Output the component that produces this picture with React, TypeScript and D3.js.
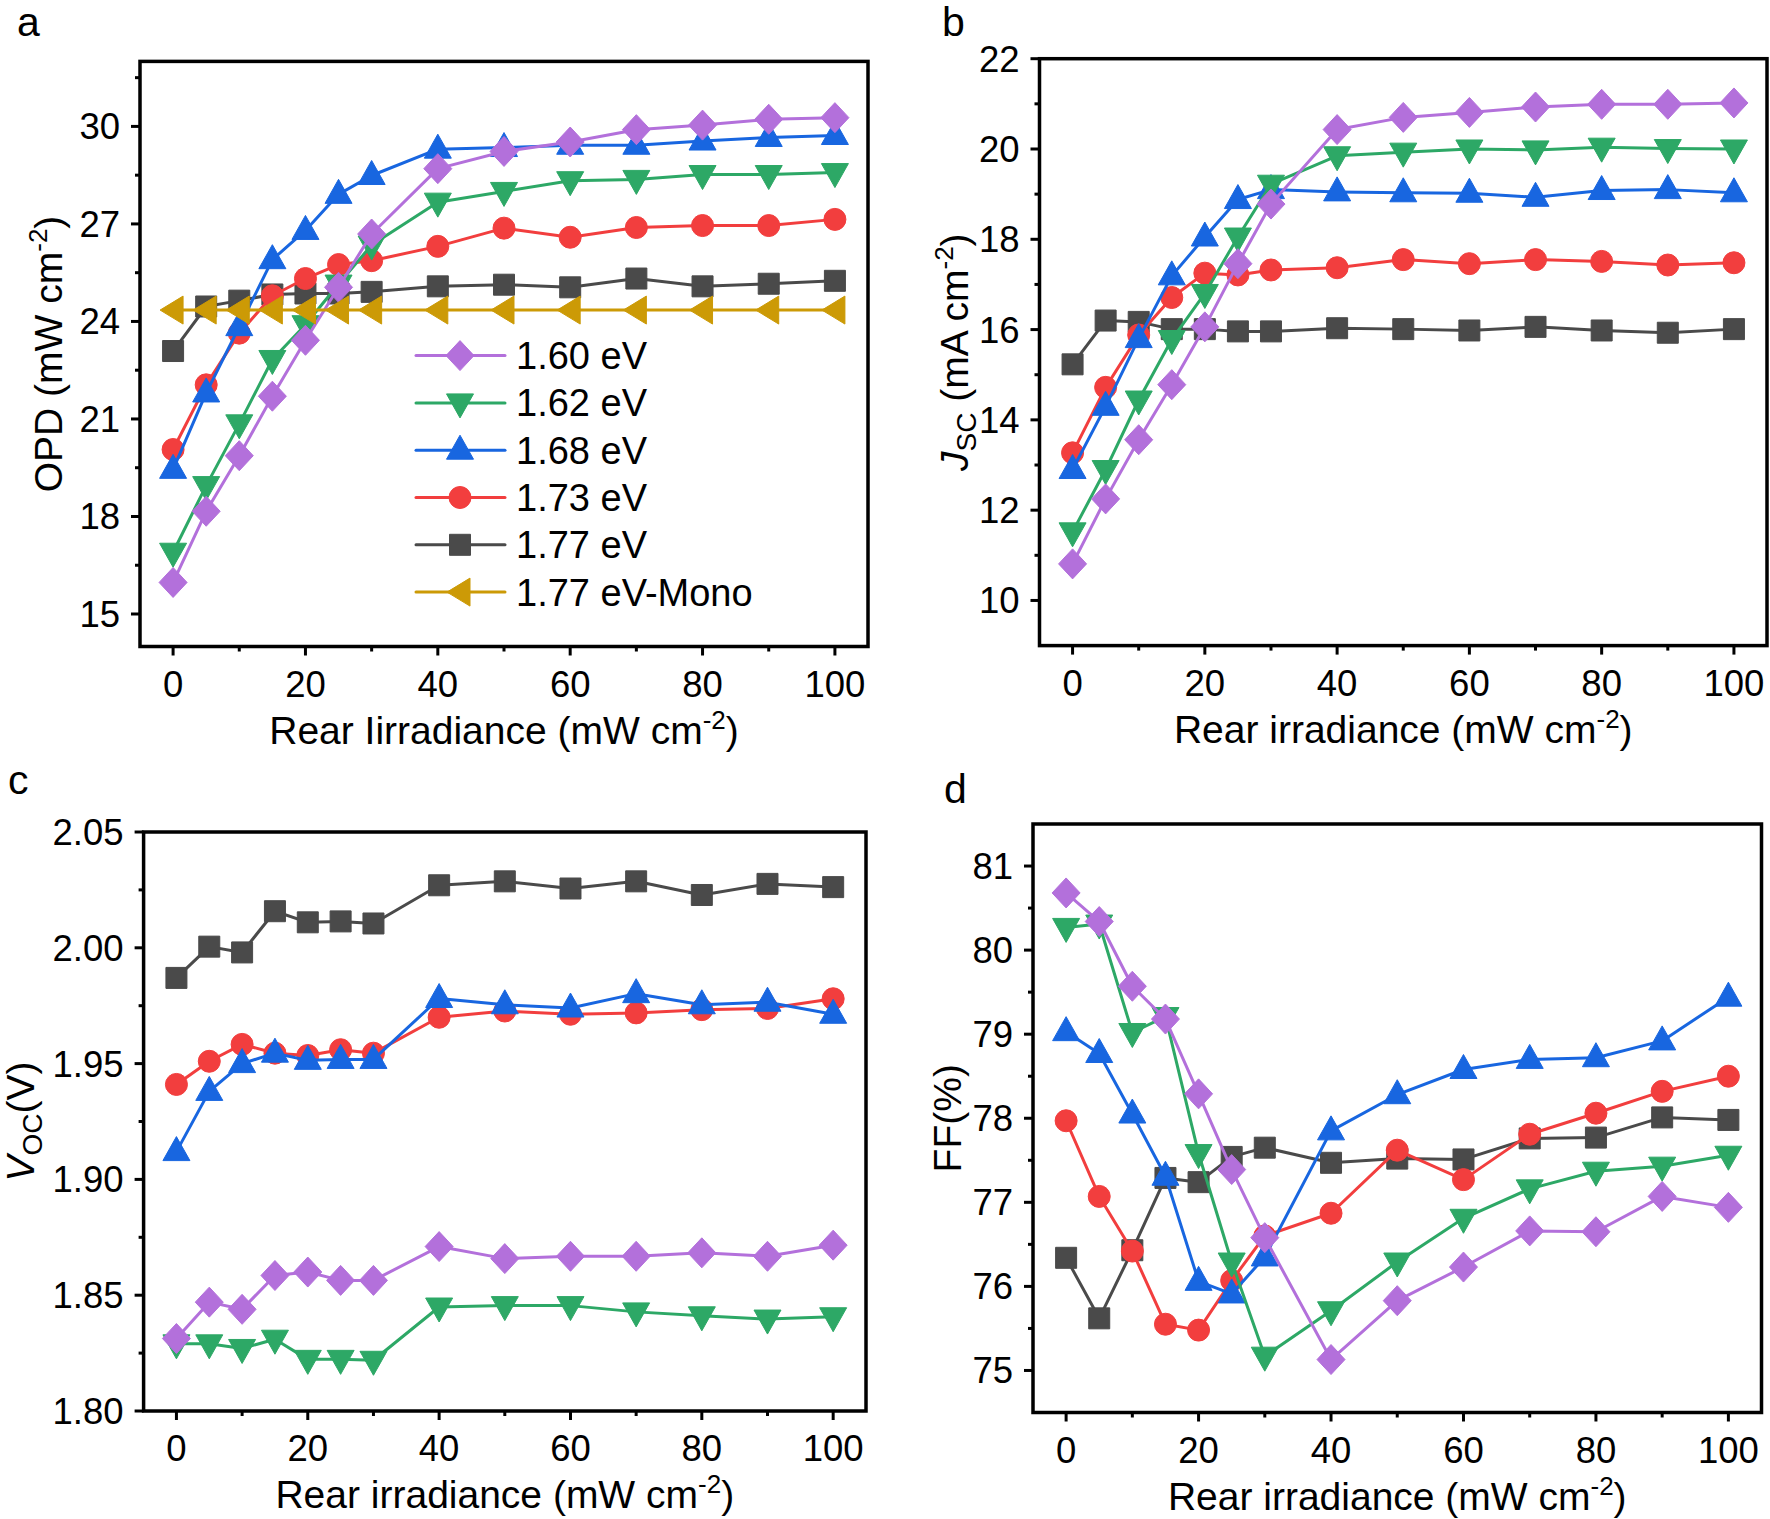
import React from 'react';
import * as d3 from 'd3';

const irradiance = [0, 5, 10, 15, 20, 25, 30, 40, 50, 60, 70, 80, 90, 100];
const seriesNames = ['1.60 eV', '1.62 eV', '1.68 eV', '1.73 eV', '1.77 eV', '1.77 eV-Mono'];
const seriesColors = ['#B370DB', '#2DA866', '#1866E0', '#F23E3E', '#4A4A4A', '#CC9A06'];
const seriesShapes = ['diamond', 'down', 'up', 'circle', 'square', 'left'];

// panel a: OPD (mW cm-2)
const opd160 = [15.97, 18.16, 19.87, 21.7, 23.42, 25.05, 26.69, 28.7, 29.23, 29.52, 29.9, 30.04, 30.22, 30.27];
const opd162 = [16.9, 18.95, 20.85, 22.83, 23.9, 25.15, 26.35, 27.67, 28.0, 28.33, 28.37, 28.52, 28.52, 28.58];
const opd168 = [19.45, 21.8, 23.84, 25.9, 26.8, 27.91, 28.49, 29.3, 29.35, 29.42, 29.42, 29.55, 29.66, 29.72];
const opd173 = [20.06, 22.05, 23.64, 24.79, 25.32, 25.75, 25.87, 26.31, 26.87, 26.59, 26.89, 26.95, 26.95, 27.14];
const opd177 = [23.09, 24.46, 24.64, 24.83, 24.86, 24.86, 24.91, 25.08, 25.13, 25.05, 25.32, 25.08, 25.16, 25.25];
const opdMono = [24.35, 24.35, 24.35, 24.35, 24.35, 24.35, 24.35, 24.35, 24.35, 24.35, 24.35, 24.35, 24.35, 24.35];

// panel b: Jsc (mA cm-2)
const jsc160 = [10.81, 12.25, 13.56, 14.78, 16.06, 17.46, 18.78, 20.43, 20.7, 20.81, 20.93, 20.99, 20.99, 21.02];
const jsc162 = [11.52, 12.9, 14.44, 15.78, 16.8, 18.05, 19.22, 19.85, 19.93, 20.0, 19.98, 20.04, 20.01, 20.0];
const jsc168 = [12.9, 14.3, 15.8, 17.19, 18.05, 18.88, 19.1, 19.05, 19.03, 19.02, 18.93, 19.08, 19.1, 19.03];
const jsc173 = [13.27, 14.72, 15.88, 16.71, 17.25, 17.21, 17.32, 17.37, 17.55, 17.46, 17.55, 17.51, 17.43, 17.48];
const jsc177 = [15.23, 16.2, 16.17, 16.01, 16.01, 15.96, 15.96, 16.03, 16.01, 15.98, 16.06, 15.98, 15.93, 16.01];

// panel c: Voc (V)
const voc160 = [1.8313, 1.847, 1.8439, 1.8585, 1.86, 1.8564, 1.8564, 1.871, 1.8658, 1.8668, 1.8668, 1.8683, 1.8668, 1.8716];
const voc162 = [1.829, 1.829, 1.827, 1.831, 1.8223, 1.8223, 1.8219, 1.8449, 1.8455, 1.8455, 1.8428, 1.8411, 1.8397, 1.8407];
const voc168 = [1.912, 1.938, 1.95, 1.9545, 1.9514, 1.9518, 1.9518, 1.9781, 1.9754, 1.974, 1.9802, 1.9754, 1.9765, 1.9713];
const voc173 = [1.941, 1.951, 1.9583, 1.9545, 1.9535, 1.956, 1.9545, 1.97, 1.9727, 1.9713, 1.9719, 1.9733, 1.9738, 1.978];
const voc177 = [1.987, 2.0005, 1.998, 2.0158, 2.011, 2.0114, 2.0105, 2.027, 2.0287, 2.0256, 2.0287, 2.0228, 2.0276, 2.0262];

// panel d: FF (%)
const ff160 = [80.68, 80.34, 79.57, 79.18, 78.29, 77.39, 76.58, 75.13, 75.83, 76.23, 76.66, 76.65, 77.07, 76.94];
const ff162 = [80.27, 80.31, 79.02, 79.21, 77.58, 76.29, 75.17, 75.71, 76.29, 76.81, 77.16, 77.37, 77.43, 77.56];
const ff168 = [79.03, 78.77, 78.05, 77.31, 76.06, 75.91, 76.35, 77.85, 78.28, 78.58, 78.7, 78.72, 78.92, 79.44];
const ff173 = [77.97, 77.07, 76.42, 75.55, 75.48, 76.07, 76.6, 76.87, 77.62, 77.27, 77.81, 78.06, 78.32, 78.5];
const ff177 = [76.34, 75.62, 76.43, 77.29, 77.24, 77.54, 77.65, 77.47, 77.52, 77.51, 77.76, 77.77, 78.01, 77.98];

const xDomain = [-5, 105];
const xMajorTicks = [0, 20, 40, 60, 80, 100];
const xMinorTicks = [10, 30, 50, 70, 90];

const FONT = '"Liberation Sans", Arial, Helvetica, sans-serif';
const TICK_FS = 36.5;
const TITLE_FS = 39;
const LEGEND_FS = 38;

function markerPath(shape: string): string {
  switch (shape) {
    case 'diamond': return 'M0,-15L14,0L0,15L-14,0Z';
    case 'up': return 'M0,-15L13.5,9L-13.5,9Z';
    case 'down': return 'M0,15L13.5,-9L-13.5,-9Z';
    case 'square': return 'M-10.5,-10.5h21v21h-21Z';
    case 'left': return 'M-13,0L10,-14L10,14Z';
    default: return '';
  }
}

function Marker({ shape, color, cx, cy }: { shape: string; color: string; cx: number; cy: number }) {
  if (shape === 'circle') return <circle cx={cx} cy={cy} r={11} fill={color} stroke={color} strokeWidth={1} />;
  return <path d={markerPath(shape)} transform={`translate(${cx},${cy})`} fill={color} stroke={color} strokeWidth={1} strokeLinejoin="round" />;
}

type PanelCfg = {
  letter: string;
  letterX: number;
  letterY: number;
  left: number;
  right: number;
  top: number;
  bottom: number;
  yDomain: number[];
  yMajor: number[];
  yMinor: number[];
  yFormat: (v: number) => string;
  series: number[][];
  yTitle: React.ReactNode;
  yTitleX: number;
  xTitle: React.ReactNode;
  legend?: boolean;
};

const drawOrder = [4, 3, 2, 1, 0, 5];

function Panel({ cfg }: { cfg: PanelCfg }) {
  const x = d3.scaleLinear().domain(xDomain).range([cfg.left, cfg.right]);
  const y = d3.scaleLinear().domain(cfg.yDomain).range([cfg.bottom, cfg.top]);
  const line = d3.line<number>().x((_d, i) => x(irradiance[i])).y((d) => y(d));
  const midY = (cfg.top + cfg.bottom) / 2;
  const midX = (cfg.left + cfg.right) / 2;
  const majorLen = 9;
  const minorLen = 5;
  return (
    <g>
      <text x={cfg.letterX} y={cfg.letterY} fontSize={41} fontFamily={FONT}>{cfg.letter}</text>
      {cfg.yMajor.map((v) => (
        <g key={'ym' + v}>
          <line x1={cfg.left} x2={cfg.left - majorLen} y1={y(v)} y2={y(v)} stroke="#000" strokeWidth={3} />
          <text x={cfg.left - 20} y={y(v) + 13} textAnchor="end" fontSize={TICK_FS} fontFamily={FONT}>{cfg.yFormat(v)}</text>
        </g>
      ))}
      {cfg.yMinor.map((v) => (
        <line key={'yn' + v} x1={cfg.left} x2={cfg.left - minorLen} y1={y(v)} y2={y(v)} stroke="#000" strokeWidth={3} />
      ))}
      {xMajorTicks.map((v) => (
        <g key={'xm' + v}>
          <line x1={x(v)} x2={x(v)} y1={cfg.bottom} y2={cfg.bottom + majorLen} stroke="#000" strokeWidth={3} />
          <text x={x(v)} y={cfg.bottom + 50} textAnchor="middle" fontSize={TICK_FS} fontFamily={FONT}>{v}</text>
        </g>
      ))}
      {xMinorTicks.map((v) => (
        <line key={'xn' + v} x1={x(v)} x2={x(v)} y1={cfg.bottom} y2={cfg.bottom + minorLen} stroke="#000" strokeWidth={3} />
      ))}
      <text x={midX} y={cfg.bottom + 97} textAnchor="middle" fontSize={TITLE_FS} fontFamily={FONT}>{cfg.xTitle}</text>
      <text transform={`translate(${cfg.yTitleX},${midY}) rotate(-90)`} textAnchor="middle" fontSize={TITLE_FS} fontFamily={FONT}>{cfg.yTitle}</text>
      {drawOrder.filter((si) => si < cfg.series.length).map((si) => {
        const data = cfg.series[si];
        const color = seriesColors[si];
        return (
          <g key={'s' + si}>
            <path d={line(data) || ''} fill="none" stroke={color} strokeWidth={3} strokeLinejoin="round" />
            {data.map((v, i) => (
              <Marker key={i} shape={seriesShapes[si]} color={color} cx={x(irradiance[i])} cy={y(v)} />
            ))}
          </g>
        );
      })}
      <rect x={cfg.left} y={cfg.top} width={cfg.right - cfg.left} height={cfg.bottom - cfg.top} fill="none" stroke="#000" strokeWidth={3.5} />
      {cfg.legend && seriesNames.map((name, i) => {
        const ly = 355.6 + i * 47.3;
        return (
          <g key={'lg' + i}>
            <line x1={416} x2={505} y1={ly} y2={ly} stroke={seriesColors[i]} strokeWidth={3} strokeLinecap="round" />
            <Marker shape={seriesShapes[i]} color={seriesColors[i]} cx={460} cy={ly} />
            <text x={516} y={ly + 13.5} fontSize={LEGEND_FS} fontFamily={FONT}>{name}</text>
          </g>
        );
      })}
    </g>
  );
}

const range = (a: number, b: number, s: number) => d3.range(0, Math.round((b - a) / s) + 1).map((k) => +(a + k * s).toFixed(4));

const sup = (txt: string) => [
  <tspan key="s1" dy={-15} fontSize={26}>{txt}</tspan>,
  <tspan key="s2" dy={15}>)</tspan>,
];

const panels: PanelCfg[] = [
  {
    letter: 'a', letterX: 17, letterY: 36,
    left: 140, right: 868, top: 61.4, bottom: 646.5,
    yDomain: [14, 32], yMajor: range(15, 30, 3), yMinor: range(16.5, 31.5, 3),
    yFormat: (v) => String(v),
    series: [opd160, opd162, opd168, opd173, opd177, opdMono],
    yTitle: [<tspan key="t">OPD (mW cm</tspan>, ...sup('-2')],
    yTitleX: 62,
    xTitle: [<tspan key="t">Rear Iirradiance (mW cm</tspan>, ...sup('-2')],
    legend: true,
  },
  {
    letter: 'b', letterX: 942, letterY: 36,
    left: 1039.5, right: 1767, top: 58.7, bottom: 645.6,
    yDomain: [9, 22], yMajor: range(10, 22, 2), yMinor: range(11, 21, 2),
    yFormat: (v) => String(v),
    series: [jsc160, jsc162, jsc168, jsc173, jsc177],
    yTitle: [
      <tspan key="j" fontStyle="italic">J</tspan>,
      <tspan key="sc" dy={8} fontSize={28}>SC</tspan>,
      <tspan key="r" dy={-8}> (mA cm</tspan>,
      ...sup('-2'),
    ],
    yTitleX: 968,
    xTitle: [<tspan key="t">Rear irradiance (mW cm</tspan>, ...sup('-2')],
  },
  {
    letter: 'c', letterX: 8, letterY: 794,
    left: 143.6, right: 866, top: 832, bottom: 1411,
    yDomain: [1.8, 2.05], yMajor: range(1.8, 2.05, 0.05), yMinor: range(1.825, 2.025, 0.05),
    yFormat: (v) => v.toFixed(2),
    series: [voc160, voc162, voc168, voc173, voc177],
    yTitle: [
      <tspan key="v" fontStyle="italic">V</tspan>,
      <tspan key="oc" dy={8} fontSize={28}>OC</tspan>,
      <tspan key="r" dy={-8}>(V)</tspan>,
    ],
    yTitleX: 34,
    xTitle: [<tspan key="t">Rear irradiance (mW cm</tspan>, ...sup('-2')],
  },
  {
    letter: 'd', letterX: 944, letterY: 803,
    left: 1033, right: 1761.5, top: 824, bottom: 1412.5,
    yDomain: [74.5, 81.5], yMajor: range(75, 81, 1), yMinor: range(75.5, 80.5, 1),
    yFormat: (v) => String(v),
    series: [ff160, ff162, ff168, ff173, ff177],
    yTitle: 'FF(%)',
    yTitleX: 961,
    xTitle: [<tspan key="t">Rear irradiance (mW cm</tspan>, ...sup('-2')],
  },
];

export default function App() {
  return (
    <svg
      width={1770}
      height={1519}
      viewBox="0 0 1770 1519"
      style={{ position: 'absolute', left: 0, top: 0, background: '#fff' }}
    >
      <rect x={0} y={0} width={1770} height={1519} fill="#fff" />
      {panels.map((p) => (
        <Panel key={p.letter} cfg={p} />
      ))}
    </svg>
  );
}
